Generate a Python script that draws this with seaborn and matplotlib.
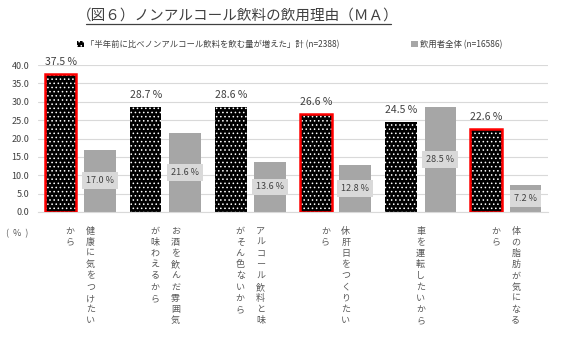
import matplotlib
matplotlib.use("Agg")
import matplotlib.pyplot as plt
from matplotlib.patches import Patch, Rectangle
from matplotlib.lines import Line2D
import matplotlib.transforms as mtransforms
import pandas as pd
import seaborn as sns

# data
reasons = ["健康に気をつけたいから", "お酒を飲んだ雰囲気が味わえるから", "アルコール飲料と味がそん色ないから",
           "休肝日をつくりたいから", "車を運転したいから", "体の脂肪が気になるから"]
# each tick label is written vertically in up to two columns (right column first)
label_right = ["健康に気をつけたい", "お酒を飲んだ雰囲気", "アルコール飲料と味", "休肝日をつくりたい", "車を運転したいから", "体の脂肪が気になる"]
label_left = ["から", "が味わえるから", "がそん色ないから", "から", "", "から"]
increased = [37.5, 28.7, 28.6, 26.6, 24.5, 22.6]
all_users = [17.0, 21.6, 13.6, 12.8, 28.5, 7.2]
red_frame = [True, False, False, True, False, True]
series = ["「半年前に比べノンアルコール飲料を飲む量が増えた」計 (n=2388)", "飲用者全体 (n=16586)"]

df = pd.DataFrame({
    "reason": reasons * 2,
    "value": increased + all_users,
    "group": [series[0]] * 6 + [series[1]] * 6,
})

sns.set_style("white")
plt.rcParams["font.family"] = ["Noto Sans CJK JP", "DejaVu Sans"]
plt.rcParams["hatch.linewidth"] = 0.6
txt_col = "#404040"

fig = plt.figure(figsize=(5.64, 3.64), dpi=100)
ax = fig.add_axes([0.067, 0.418, 0.905, 0.403])

sns.barplot(data=df, x="reason", y="value", hue="group", hue_order=series,
            palette=["black", "#a6a6a6"], width=0.92, gap=0.2, ax=ax, legend=False,
            saturation=1)

# black bars: white dots, some with a red frame
for p, red, v in zip(ax.containers[0], red_frame, increased):
    p.set_hatch("....")
    p.set_edgecolor("white")
    p.set_linewidth(0)
    if red:
        ax.add_patch(Rectangle((p.get_x(), p.get_y()), p.get_width(), p.get_height(),
                               fill=False, edgecolor="#ff0000", linewidth=1.8, zorder=5))
    ax.annotate(f"{v:.1f} %", (p.get_x() + p.get_width() / 2, p.get_height()),
                xytext=(0, 5), textcoords="offset points", ha="center", va="bottom",
                fontsize=7.5, color=txt_col)

for p, v in zip(ax.containers[1], all_users):
    p.set_linewidth(0)
    ax.text(p.get_x() + p.get_width() / 2, p.get_height() / 2, f"{v:.1f} %",
            ha="center", va="center", fontsize=6.5, color=txt_col, zorder=6,
            bbox=dict(facecolor="#d9d9d9", edgecolor="none", pad=2.8))

ax.set_ylim(0, 40)
ax.set_yticks(range(0, 41, 5))
ax.set_yticklabels([f"{t:.1f}" for t in range(0, 41, 5)], fontsize=6.5, color=txt_col)
ax.yaxis.grid(True, color="#d9d9d9", linewidth=0.8)
ax.set_axisbelow(True)
ax.set_xlim(-0.5, 5.5)
ax.set_xticks(range(6))
ax.set_xticklabels([])
ax.tick_params(length=0, pad=6)
ax.set_xlabel("")
ax.set_ylabel("")
for s in ["top", "right", "left"]:
    ax.spines[s].set_visible(False)
ax.spines["bottom"].set_color("#d9d9d9")

# vertical tick labels
trans = mtransforms.blended_transform_factory(ax.transData, ax.transAxes)
for i, (r, l) in enumerate(zip(label_right, label_left)):
    off = 0.12 if l else 0.0
    ax.text(i + off, -0.1, "\n".join(r), transform=trans, ha="center", va="top",
            fontsize=6.5, color="#595959", linespacing=1.32)
    if l:
        ax.text(i - off, -0.1, "\n".join(l), transform=trans, ha="center", va="top",
                fontsize=6.5, color="#595959", linespacing=1.32)

fig.text(0.03, 0.357, "(  %  )", fontsize=6.5, color="#595959", ha="center", va="center")

# title with underline
fig.text(0.422, 0.958, "（図６）ノンアルコール飲料の飲用理由（ＭＡ）", ha="center", va="center",
         fontsize=10.5, color="#404040")
fig.add_artist(Line2D([0.152, 0.693], [0.935, 0.935], color="#404040", linewidth=0.9))

handles = [Patch(facecolor="black", edgecolor="white", hatch="....", linewidth=0),
           Patch(facecolor="#a6a6a6", edgecolor="none")]
fig.legend(handles, series, loc="center", bbox_to_anchor=(0.514, 0.878), ncol=2, frameon=False,
           fontsize=6, handlelength=0.8, handleheight=0.8, handletextpad=0.3, columnspacing=8.6,
           labelcolor=txt_col)

fig.savefig("out.png", dpi=100)
